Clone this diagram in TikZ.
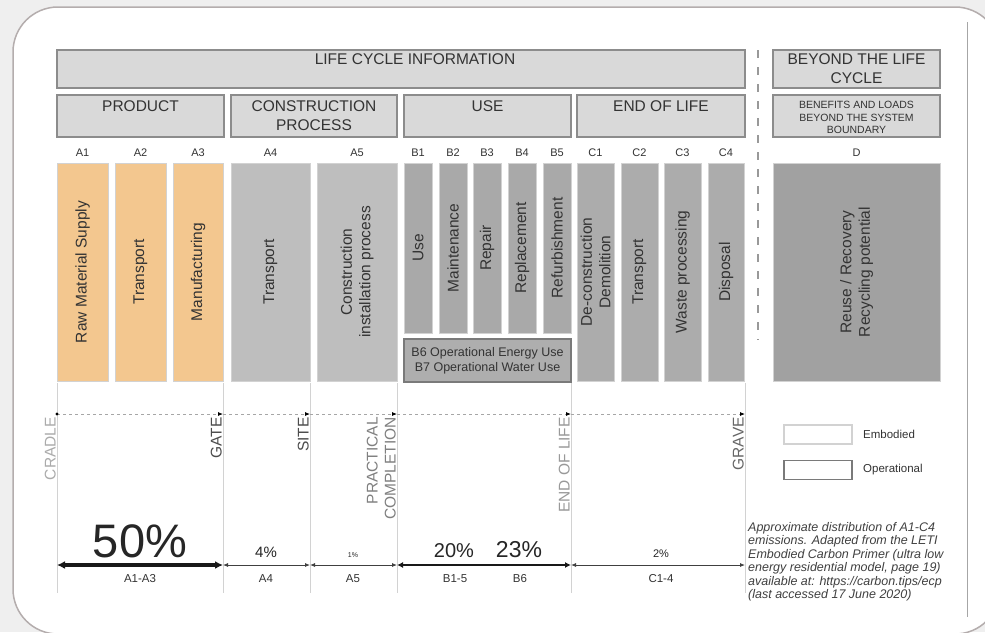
\documentclass[tikz,border=0pt]{standalone}
\usepackage{fontspec}
\setmainfont{Liberation Sans}
\usetikzlibrary{arrows.meta}

\definecolor{pagebg}{HTML}{EFEFEF}
\definecolor{panelline}{HTML}{B4ADAD}
\definecolor{hdrfill}{HTML}{D9D9D9}
\definecolor{hdrline}{HTML}{8C8C8C}
\definecolor{prodfill}{HTML}{F3C78F}
\definecolor{consfill}{HTML}{BEBEBE}
\definecolor{usefill}{HTML}{A9A9A9}
\definecolor{eolfill}{HTML}{ACACAC}
\definecolor{dfill}{HTML}{A1A1A1}
\definecolor{opfill}{HTML}{AEAEAE}
\definecolor{txtgrey}{HTML}{333333}
\definecolor{edgelight}{HTML}{D2D2D2}
\definecolor{edgedark}{HTML}{7A7A7A}

\begin{document}
\begin{tikzpicture}[x=1pt, y=-1pt,
    stage/.style={draw=hdrline, fill=hdrfill, line width=1.2pt, text=txtgrey,
        align=center, inner sep=0pt, font=\fontsize{15.5}{19}\selectfont},
    module/.style={rotate=90, draw=edgelight, line width=0.8pt, text=txtgrey,
        align=center, inner sep=0pt, font=\fontsize{15.5}{18.5}\selectfont},
    code/.style={text=txtgrey, inner sep=0pt, font=\fontsize{11}{13}\selectfont},
    milestone/.style={rotate=90, anchor=south east, inner sep=0pt, align=right,
        font=\fontsize{15.5}{18}\selectfont},
    divider/.style={draw=edgelight, line width=0.8pt},
    timeline/.style={draw=gray!70, line width=0.8pt, dash pattern=on 3pt off 3pt,
        -{Latex[length=5pt, width=4pt, color=black]}},
    span/.style={draw=black!75, line width=0.8pt,
        {Latex[length=5pt, width=4pt]}-{Latex[length=5pt, width=4pt]}},
    share/.style={anchor=base, inner sep=0pt, text=black!85},
    spanlabel/.style={anchor=base, inner sep=0pt, text=txtgrey,
        font=\fontsize{11.5}{13}\selectfont},
    legendbox/.style={minimum width=68pt, minimum height=19pt, inner sep=0pt},
    legendtext/.style={anchor=west, inner sep=0pt, text=txtgrey,
        font=\fontsize{11.5}{13}\selectfont}
]
    \useasboundingbox (0,0) rectangle (985,632);
    \fill[pagebg] (0,0) rectangle (985,632);
    \draw[panelline, fill=white, line width=1.5pt, rounded corners=45pt] (13,7) rectangle (1000,634);
    \draw[gray!70, line width=1pt] (967,22) -- (967,617);

    % headers
    \node[stage, minimum width=688pt, minimum height=38pt] (lci) at (401,69) {\hspace*{28pt}LIFE CYCLE INFORMATION\\\phantom{L}};
    \node[stage, minimum width=167pt, minimum height=38pt] (beyond) at (856.5,69) {BEYOND THE LIFE\\CYCLE};
    \node[stage, minimum width=167pt, minimum height=42pt] (product) at (140.5,116) {PRODUCT\\\phantom{P}};
    \node[stage, minimum width=166pt, minimum height=42pt] (construction) at (314,116) {CONSTRUCTION\\PROCESS};
    \node[stage, minimum width=167pt, minimum height=42pt] (use) at (487.5,116) {USE\\\phantom{U}};
    \node[stage, minimum width=168pt, minimum height=42pt] (endoflife) at (661,116) {END OF LIFE\\\phantom{E}};
    \node[stage, minimum width=167pt, minimum height=42pt, font=\fontsize{10.5}{12.5}\selectfont] (benefits) at (856.5,116) {\\[-2pt]BENEFITS AND LOADS\\BEYOND THE SYSTEM\\BOUNDARY};
    \draw[gray!80, line width=1.2pt, dash pattern=on 8pt off 9pt] (758,50) -- (758,340);

    % module codes
    \node[code] (code-a1) at (82.5,153) {A1};
    \node[code] (code-a2) at (140.5,153) {A2};
    \node[code] (code-a3) at (198,153) {A3};
    \node[code] (code-a4) at (270.5,153) {A4};
    \node[code] (code-a5) at (357,153) {A5};
    \node[code] (code-b1) at (418,153) {B1};
    \node[code] (code-b2) at (453,153) {B2};
    \node[code] (code-b3) at (487,153) {B3};
    \node[code] (code-b4) at (522,153) {B4};
    \node[code] (code-b5) at (557,153) {B5};
    \node[code] (code-c1) at (595.5,153) {C1};
    \node[code] (code-c2) at (639.5,153) {C2};
    \node[code] (code-c3) at (682.5,153) {C3};
    \node[code] (code-c4) at (726,153) {C4};
    \node[code] (code-d) at (856.5,153) {D};

    % modules
    \node[module, fill=prodfill, minimum width=218pt, minimum height=51pt] (a1) at (82.5,272) {Raw Material Supply};
    \node[module, fill=prodfill, minimum width=218pt, minimum height=51pt] (a2) at (140.5,272) {Transport};
    \node[module, fill=prodfill, minimum width=218pt, minimum height=50pt] (a3) at (198,272) {Manufacturing};
    \node[module, fill=consfill, minimum width=218pt, minimum height=79pt] (a4) at (270.5,272) {Transport};
    \node[module, fill=consfill, minimum width=218pt, minimum height=80pt] (a5) at (357,272) {Construction\\installation process};
    \node[module, fill=usefill, minimum width=170pt, minimum height=28pt] (b1) at (418,248) {Use};
    \node[module, fill=usefill, minimum width=170pt, minimum height=28pt] (b2) at (453,248) {Maintenance};
    \node[module, fill=usefill, minimum width=170pt, minimum height=28pt] (b3) at (487,248) {Repair};
    \node[module, fill=usefill, minimum width=170pt, minimum height=28pt] (b4) at (522,248) {Replacement};
    \node[module, fill=usefill, minimum width=170pt, minimum height=28pt] (b5) at (557,248) {Refurbishment};
    \node[draw=edgedark, fill=opfill, line width=1.5pt, text=txtgrey, align=center, inner sep=0pt,
        font=\fontsize{12.5}{15}\selectfont, minimum width=167pt, minimum height=43pt] (b6) at (487.5,360.5)
        {B6 Operational Energy Use\\B7 Operational Water Use};
    \node[module, fill=eolfill, minimum width=218pt, minimum height=37pt] (c1) at (595.5,272) {De-construction\\Demolition};
    \node[module, fill=eolfill, minimum width=218pt, minimum height=37pt] (c2) at (639.5,272) {Transport};
    \node[module, fill=eolfill, minimum width=218pt, minimum height=37pt] (c3) at (682.5,272) {Waste processing};
    \node[module, fill=eolfill, minimum width=218pt, minimum height=36pt] (c4) at (726,272) {Disposal};
    \node[module, fill=dfill, minimum width=218pt, minimum height=167pt] (d) at (856.5,272) {Reuse / Recovery\\Recycling potential};

    % milestones
    \coordinate (cradle) at (57,414);
    \coordinate (gate) at (223,414);
    \coordinate (site) at (310,414);
    \coordinate (completion) at (397,414);
    \coordinate (eol) at (571,414);
    \coordinate (grave) at (745,414);
    \draw[divider] (57,383) -- (57,593);
    \draw[divider] (223,383) -- (223,593);
    \draw[divider] (310,383) -- (310,593);
    \draw[divider] (397,383) -- (397,593);
    \draw[divider] (571,383) -- (571,593);
    \draw[divider] (745,383) -- (745,593);
    \draw[timeline] (cradle) -- (gate);
    \draw[timeline] (gate) -- (site);
    \draw[timeline] (site) -- (completion);
    \draw[timeline] (completion) -- (eol);
    \draw[timeline] (eol) -- (grave);
    \fill[black] (cradle) circle (1.6);
    \node[milestone, text=black!33] (t-cradle) at (56,417) {CRADLE};
    \node[milestone, text=black!70] (t-gate) at (222,417) {GATE};
    \node[milestone, text=black!70] (t-site) at (309,417) {SITE};
    \node[milestone, text=black!50] (t-completion) at (396,417) {PRACTICAL\\COMPLETION};
    \node[milestone, text=black!40] (t-eol) at (570,417) {END OF LIFE};
    \node[milestone, text=black!60] (t-grave) at (744,417) {GRAVE};

    % shares
    \coordinate (s0) at (57,565);
    \coordinate (s1) at (223,565);
    \coordinate (s2) at (310,565);
    \coordinate (s3) at (397,565);
    \coordinate (s4) at (571,565);
    \coordinate (s5) at (745,565);
    \draw[span, draw=black!90, line width=3.6pt,
        {Latex[length=8pt, width=8pt]}-{Latex[length=8pt, width=8pt]}] (s0) -- (s1);
    \draw[span] (s1) -- (s2);
    \draw[span] (s2) -- (s3);
    \draw[span, draw=black!90, line width=2.2pt,
        {Latex[length=6pt, width=6pt]}-{Latex[length=6pt, width=6pt]}] (s3) -- (s4);
    \draw[span] (s4) -- (s5);
    \node[share, font=\fontsize{47}{50}\selectfont] (p-a13) at (140,557) {50\%};
    \node[share, font=\fontsize{15}{17}\selectfont] (p-a4) at (266,557) {4\%};
    \node[share, font=\fontsize{7}{8}\selectfont] (p-a5) at (353,557) {1\%};
    \node[share, font=\fontsize{20}{22}\selectfont] (p-b15) at (454,557) {20\%};
    \node[share, font=\fontsize{23}{25}\selectfont] (p-b6) at (519,557) {23\%};
    \node[share, font=\fontsize{11}{12}\selectfont] (p-c14) at (661,557) {2\%};
    \node[spanlabel] (l-a13) at (140,582) {A1-A3};
    \node[spanlabel] (l-a4) at (266,582) {A4};
    \node[spanlabel] (l-a5) at (353,582) {A5};
    \node[spanlabel] (l-b15) at (455,582) {B1-5};
    \node[spanlabel] (l-b6) at (520,582) {B6};
    \node[spanlabel] (l-c14) at (661,582) {C1-4};

    % legend
    \node[legendbox, draw=edgelight, line width=1.2pt] (emb) at (818,434.5) {};
    \node[legendtext] (emb-text) at (863,434.5) {Embodied};
    \node[legendbox, draw=edgedark, line width=1.8pt] (op) at (818,470) {};
    \node[legendtext] (op-text) at (863,470) {Operational};
    \node[anchor=north west, align=left, inner sep=0pt, text=black!75,
        font=\fontsize{12.5}{13.5}\selectfont\itshape] (note) at (748,522)
        {Approximate distribution of A1-C4\\emissions. Adapted from the LETI\\Embodied Carbon Primer (ultra low\\energy residential model, page 19)\\available at: https://carbon.tips/ecp\\(last accessed 17 June 2020)};
\end{tikzpicture}
\end{document}
